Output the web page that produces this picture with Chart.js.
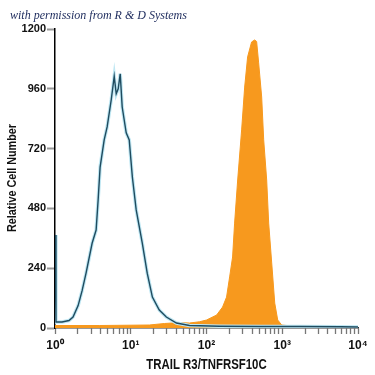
<!DOCTYPE html>
<html lang="en">
<head>
  <meta charset="UTF-8">
  <title>TRAIL R3 flow histogram</title>
  <script src="https://cdn.jsdelivr.net/npm/chart.js"></script>
  <style>
    body {
      margin: 0;
      background: #fff;
    }

    .wrap {
      position: relative;
      width: 375px;
      height: 375px;
    }

    .credit {
      position: absolute;
      left: 10px;
      top: 8px;
      font-family: 'Liberation Serif', 'DejaVu Serif', serif;
      font-style: italic;
      font-size: 12px;
      color: #1c2a5c;
      white-space: nowrap;
    }
  </style>
</head>
<body>

<div class="wrap">
  <canvas id="flowChart" width="375" height="375"></canvas>
  <div class="credit">with permission from R &amp; D Systems</div>
</div>

<script>
  // isotype control (open histogram)
  const controlX = [1.0, 1.03, 1.24, 1.53, 1.73, 2.02, 2.28, 2.57, 3.09, 3.49, 3.71, 3.94, 4.46, 4.88, 5.52, 6.05, 6.43, 6.83, 7.26, 7.71, 8.71, 9.55, 10.5, 11.8, 14.2, 16.5, 19.3, 23.8, 29.5, 40.1, 59.6, 149, 503, 1706, 5780, 10000];
  const controlY = [373, 24, 24, 30, 44, 90, 150, 220, 340, 393, 514, 646, 755, 807, 915, 1010, 940, 960, 1020, 887, 783, 755, 606, 474, 341, 220, 124, 72, 44, 20, 10, 7, 6, 6, 5, 4];

  // TRAIL R3 stained cells (filled histogram)
  const stainX = [1.0, 3.83, 17.6, 27.8, 43.9, 59.6, 80.8, 100, 136, 163, 184, 202, 221, 235, 258, 291, 319, 349, 394, 432, 459, 488, 535, 569, 623, 662, 726, 796, 871, 984, 1706, 10000];
  const stainY = [10, 10, 12, 18, 22, 20, 25, 32, 52, 84, 124, 205, 285, 421, 594, 795, 967, 1088, 1148, 1156, 1150, 1064, 927, 755, 594, 421, 261, 100, 32, 12, 5, 4];

  const yTicks = [0, 240, 480, 720, 960, 1200];
  const xDecades = ['10\u2070', '10\u00b9', '10\u00b2', '10\u00b3', '10\u2074'];
  const xTitle = 'TRAIL R3/TNFRSF10C';
  const yTitle = 'Relative Cell Number';

  const toPoints = (xs, ys) => xs.map((x, i) => ({ x, y: ys[i] }));

  const tickFont = { family: "'Liberation Sans', Arial, sans-serif", size: 11, weight: 'bold' };

  // axis titles in a narrow bold face (squeezed sideways)
  const narrowTitles = {
    id: 'narrowTitles',
    afterDraw(chart) {
      const { ctx, chartArea: a } = chart;
      ctx.save();
      ctx.fillStyle = '#111';
      ctx.textAlign = 'center';
      ctx.textBaseline = 'middle';

      ctx.font = "bold 15px 'Liberation Sans', Arial, sans-serif";
      ctx.save();
      ctx.translate((a.left + a.right) / 2, 365);
      ctx.scale(0.76, 1);
      ctx.fillText(xTitle, 0, 0);
      ctx.restore();

      ctx.font = "bold 13px 'Liberation Sans', Arial, sans-serif";
      ctx.save();
      ctx.translate(12, 178);
      ctx.rotate(-Math.PI / 2);
      ctx.scale(0.83, 1);
      ctx.fillText(yTitle, 0, 0);
      ctx.restore();

      ctx.restore();
    }
  };

  new Chart(document.getElementById('flowChart'), {
    type: 'line',
    data: {
      datasets: [
        {
          label: 'Control',
          data: toPoints(controlX, controlY),
          borderColor: '#1f4b5f',
          borderWidth: 1.4,
          pointRadius: 0,
          tension: 0,
          fill: false,
          order: 0
        },
        {
          label: 'Control halo',
          data: toPoints(controlX, controlY),
          borderColor: '#bfe7f3',
          borderWidth: 3.5,
          pointRadius: 0,
          tension: 0,
          fill: false,
          order: 1
        },
        {
          label: 'TRAIL R3',
          data: toPoints(stainX, stainY),
          borderColor: '#f7991e',
          backgroundColor: '#f7991e',
          borderWidth: 1,
          pointRadius: 0,
          tension: 0,
          fill: 'origin',
          order: 2
        }
      ]
    },
    options: {
      responsive: false,
      animation: false,
      layout: { padding: { top: 29, right: 17, left: 0, bottom: 0 } },
      plugins: {
        legend: { display: false },
        tooltip: { enabled: false }
      },
      scales: {
        x: {
          type: 'logarithmic',
          min: 1,
          max: 10000,
          afterFit: s => { s.height = 47; },
          afterBuildTicks: s => {
            const t = [];
            for (let e = 0; e < 4; e++) {
              for (let m = 1; m < 10; m++) t.push({ value: m * Math.pow(10, e) });
            }
            t.push({ value: 10000 });
            s.ticks = t;
          },
          border: { color: '#333', width: 1.5 },
          grid: { drawOnChartArea: false, tickLength: 6, tickWidth: 1.3, tickColor: '#777' },
          ticks: {
            autoSkip: false,
            maxRotation: 0,
            padding: 4,
            color: '#111',
            font: { ...tickFont, size: 12 },
            callback: v => {
              const l = Math.log10(v);
              const r = Math.round(l);
              return Math.abs(l - r) < 1e-9 ? xDecades[r] : '';
            }
          }
        },
        y: {
          min: 0,
          max: 1200,
          afterFit: s => { s.width = 55; },
          afterBuildTicks: s => { s.ticks = yTicks.map(v => ({ value: v })); },
          border: { color: '#000', width: 1.5 },
          grid: { drawOnChartArea: false, tickLength: 8, tickWidth: 2, tickColor: '#999' },
          ticks: {
            padding: 1,
            color: '#111',
            font: tickFont,
            callback: v => String(v)
          }
        }
      }
    },
    plugins: [narrowTitles]
  });
</script>
</body>
</html>
